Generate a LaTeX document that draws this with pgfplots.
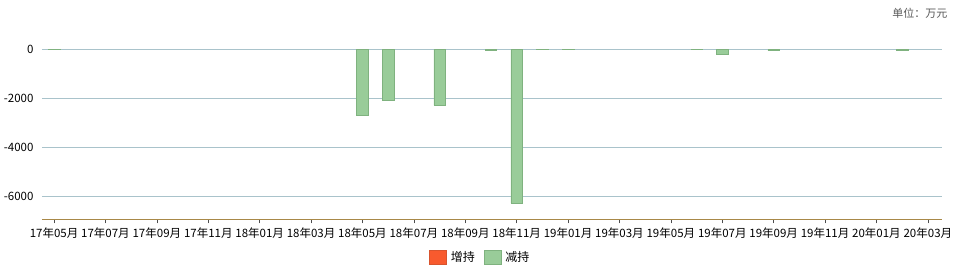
\documentclass[border=0pt]{standalone}
\usepackage{fontspec}
\setmainfont{Noto Sans CJK SC}
\usepackage{pgfplots}
\pgfplotsset{compat=1.18}
\definecolor{barfill}{HTML}{99CC99}
\definecolor{bardraw}{HTML}{7FB27F}
\definecolor{incfill}{HTML}{F85A2E}
\definecolor{incdraw}{HTML}{D8542E}
\definecolor{gridc}{HTML}{A9C3CB}
\definecolor{axisc}{HTML}{A88848}
\begin{document}
\begin{tikzpicture}
\useasboundingbox (0,0) rectangle (959pt,278pt);
\begin{axis}[
  at={(42pt,58.7pt)}, anchor=south west,
  scale only axis, width=900pt, height=194.5pt,
  xmin=-0.47, xmax=34.55, ymin=-6950, ymax=1000,
  axis x line*=bottom, axis y line*=left,
  x axis line style={color=axisc, line width=0.8pt},
  y axis line style={draw=none},
  xtick={0,2,...,34},
  xticklabels={17年05月,17年07月,17年09月,17年11月,18年01月,18年03月,18年05月,18年07月,18年09月,18年11月,19年01月,19年03月,19年05月,19年07月,19年09月,19年11月,20年01月,20年03月},
  xtick style={color=black!70, line width=0.6pt},
  major tick length=4pt, tick align=outside,
  ytick={-6000,-4000,-2000,0},
  yticklabels={-6000,-4000,-2000,0},
  ytick style={draw=none},
  ymajorgrids, major grid style={color=gridc, line width=0.6pt},
  tick label style={font=\fontsize{11.5}{13}\selectfont, text=black},
  xticklabel style={yshift=-1pt},
  yticklabel style={xshift=-1pt},
  ybar, bar width=11.5pt,
  legend style={at={(0.487,-0.194)}, anchor=center, draw=none, fill=none,
    legend columns=2, font=\fontsize{12}{13}\selectfont,
    inner sep=0pt,
    /tikz/every odd column/.append style={column sep=2pt},
    /tikz/every even column/.append style={column sep=7pt}},
  legend image code/.code={\draw[#1] (0pt,-7pt) rectangle (17pt,7pt);},
]
\addlegendimage{fill=incfill, draw=incdraw}
\addlegendentry{增持}
\addplot[fill=barfill, draw=bardraw, line width=0.5pt] coordinates {
  (0,-12) (12,-2700) (13,-2080) (15,-2290) (17,-50) (18,-6290)
  (19,-12) (20,-12) (25,-12) (26,-200) (28,-60) (33,-60)
};
\addlegendentry{减持}
\end{axis}
\node[anchor=east, font=\fontsize{11}{12}\selectfont, text=black!65] at (951pt,265pt) {单位：万元};
\end{tikzpicture}
\end{document}
